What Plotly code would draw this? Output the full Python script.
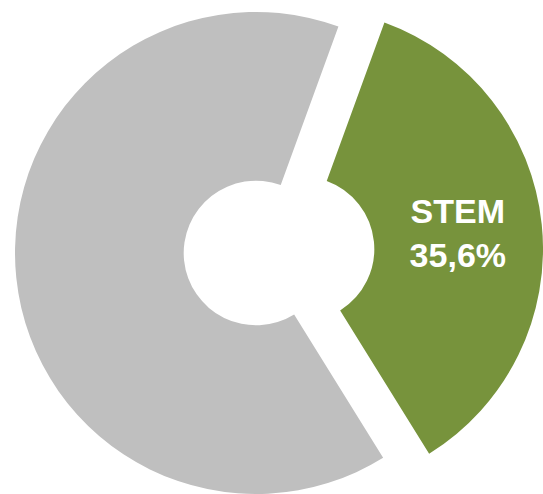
import plotly.graph_objects as go

labels = ["STEM", "Other"]
values = [35.6, 64.4]
label_text = ["STEM<br>35,6%", ""]
colors = ["#77933C", "#BFBFBF"]

W, H = 543, 494
R = 241

def dom(cx, cy, r):
    return dict(x=[max(0, (cx - r) / W), min(1, (cx + r) / W)],
                y=[max(0, (H - cy - r) / H), min(1, (H - cy + r) / H)])

clear = "rgba(0,0,0,0)"

fig = go.Figure()
# grey part (STEM slice transparent)
fig.add_trace(go.Pie(
    labels=labels, values=values, sort=False, direction="clockwise", rotation=20,
    hole=0.30, marker=dict(colors=[clear, colors[1]], line=dict(width=0)),
    textinfo="none", hoverinfo="skip", showlegend=False,
    domain=dom(256, 253, R),
))
# pulled-out STEM slice
fig.add_trace(go.Pie(
    labels=labels, values=values, sort=False, direction="clockwise", rotation=20,
    hole=0.30, marker=dict(colors=[colors[0], clear], line=dict(width=0)),
    text=label_text, texttemplate="%{text}", textposition="inside",
    insidetextorientation="horizontal",
    textfont=dict(family="Arial, Liberation Sans, sans-serif", size=34, color="white", weight="bold"),
    hoverinfo="skip", showlegend=False,
    domain=dom(302, 249, R),
))
fig.update_layout(
    width=W, height=H, margin=dict(l=0, r=0, t=0, b=0),
    paper_bgcolor="white", plot_bgcolor="white",
)
fig.write_html("out.html", config={"displayModeBar": False},
               post_script="document.body.style.margin='0';document.body.style.overflow='hidden';")
